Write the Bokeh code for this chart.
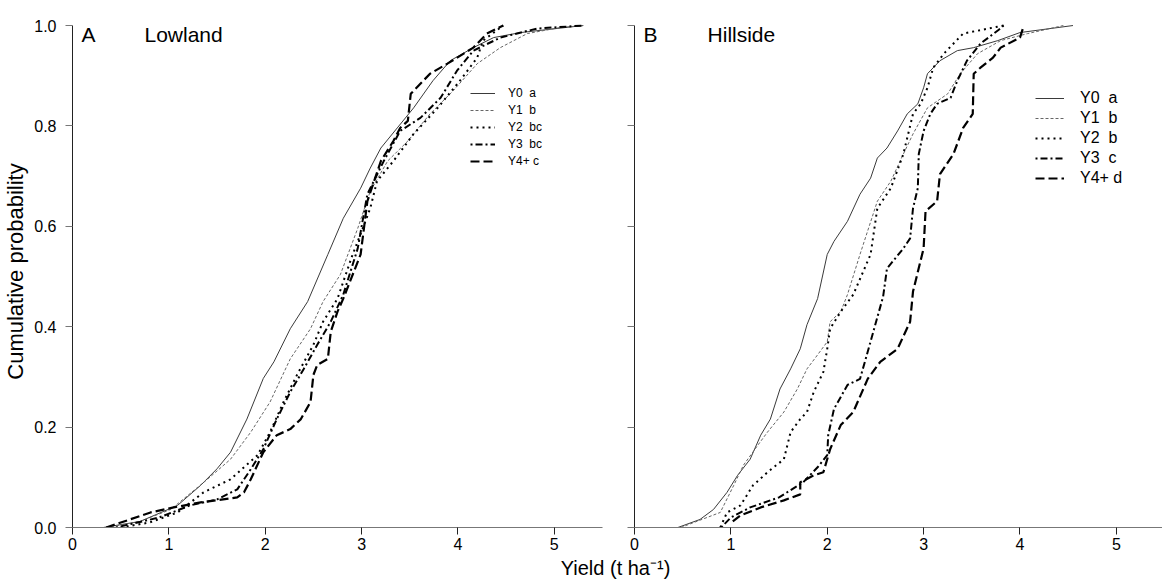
from bokeh.plotting import figure
from bokeh.models import (Range1d, FixedTicker, PrintfTickFormatter, CustomJSTickFormatter,
                          Label, Legend, LegendItem)
from bokeh.layouts import row, column
from bokeh.embed import file_html
from bokeh.resources import INLINE

# ---------------- data ----------------
# Panel A: Lowland  (yield t/ha, cumulative probability)
low_y0_x = [0.32, 0.70, 1.09, 1.33, 1.50, 1.64, 1.81, 1.98, 2.09, 2.26, 2.44, 2.65, 2.81, 2.99, 3.09, 3.20, 3.37, 3.54, 3.74, 3.92, 4.16, 4.37, 4.65, 5.30]
low_y0_p = [0.0, 0.012, 0.044, 0.084, 0.117, 0.15, 0.216, 0.297, 0.33, 0.396, 0.45, 0.544, 0.616, 0.676, 0.716, 0.756, 0.796, 0.836, 0.89, 0.93, 0.956, 0.976, 0.986, 1.0]

low_y1_x = [0.35, 0.70, 1.02, 1.40, 1.64, 1.85, 2.05, 2.26, 2.47, 2.60, 2.78, 2.96, 3.09, 3.27, 3.48, 3.71, 3.95, 4.20, 4.44, 4.72, 5.06, 5.30]
low_y1_p = [0.0, 0.012, 0.036, 0.096, 0.136, 0.19, 0.25, 0.336, 0.396, 0.45, 0.504, 0.596, 0.67, 0.73, 0.77, 0.824, 0.87, 0.924, 0.956, 0.984, 0.996, 1.0]

low_y2_x = [0.50, 0.80, 1.09, 1.36, 1.64, 1.92, 2.05, 2.19, 2.33, 2.50, 2.60, 2.75, 2.90, 3.02, 3.09, 3.16, 3.33, 3.54, 3.79, 4.02, 4.20, 4.26, 4.47]
low_y2_p = [0.0, 0.01, 0.03, 0.07, 0.096, 0.144, 0.19, 0.25, 0.304, 0.364, 0.41, 0.456, 0.54, 0.60, 0.636, 0.69, 0.73, 0.784, 0.836, 0.89, 0.936, 0.97, 1.0]

low_y3_x = [0.45, 0.90, 1.22, 1.50, 1.71, 1.85, 1.98, 2.12, 2.26, 2.40, 2.54, 2.68, 2.81, 2.96, 3.06, 3.23, 3.40, 3.61, 3.82, 3.99, 4.16, 4.44, 4.82, 5.30]
low_y3_p = [0.0, 0.02, 0.044, 0.056, 0.076, 0.116, 0.156, 0.216, 0.27, 0.316, 0.364, 0.41, 0.464, 0.556, 0.664, 0.73, 0.79, 0.816, 0.856, 0.91, 0.95, 0.976, 0.994, 1.0]

low_y4_x = [0.35, 0.81, 1.05, 1.33, 1.71, 1.78, 1.85, 1.98, 2.12, 2.26, 2.37, 2.47, 2.50, 2.54, 2.65, 2.68, 2.75, 2.81, 2.99, 3.06, 3.20, 3.33, 3.40, 3.48, 3.51, 3.61, 3.71, 3.89, 4.16, 4.30, 4.47]
low_y4_p = [0.0, 0.03, 0.04, 0.05, 0.06, 0.07, 0.096, 0.15, 0.184, 0.196, 0.216, 0.25, 0.304, 0.324, 0.336, 0.39, 0.43, 0.456, 0.544, 0.65, 0.73, 0.77, 0.796, 0.81, 0.864, 0.884, 0.904, 0.924, 0.956, 0.984, 1.0]

# Panel B: Hillside
hill_y0_x = [0.45, 0.68, 0.82, 0.96, 1.07, 1.20, 1.31, 1.41, 1.51, 1.62, 1.72, 1.79, 1.90, 2.00, 2.07, 2.21, 2.34, 2.45, 2.52, 2.62, 2.73, 2.83, 2.94, 3.00, 3.04, 3.17, 3.35, 3.52, 3.77, 4.00, 4.55]
hill_y0_p = [0.0, 0.016, 0.036, 0.07, 0.104, 0.136, 0.184, 0.216, 0.276, 0.316, 0.356, 0.404, 0.456, 0.544, 0.57, 0.61, 0.664, 0.696, 0.736, 0.756, 0.79, 0.824, 0.844, 0.876, 0.904, 0.93, 0.95, 0.956, 0.97, 0.986, 1.0]

hill_y1_x = [0.48, 0.89, 1.03, 1.13, 1.28, 1.38, 1.55, 1.69, 1.79, 1.90, 2.00, 2.03, 2.14, 2.21, 2.34, 2.52, 2.66, 2.79, 2.89, 3.04, 3.25, 3.38, 3.56, 3.80, 4.08, 4.45]
hill_y1_p = [0.0, 0.03, 0.084, 0.124, 0.164, 0.19, 0.23, 0.276, 0.316, 0.344, 0.37, 0.41, 0.43, 0.464, 0.544, 0.65, 0.69, 0.744, 0.784, 0.836, 0.864, 0.904, 0.944, 0.97, 0.984, 1.0]

hill_y2_x = [0.89, 0.96, 1.10, 1.23, 1.38, 1.55, 1.62, 1.72, 1.79, 1.86, 1.96, 2.00, 2.03, 2.14, 2.27, 2.45, 2.52, 2.66, 2.79, 2.89, 2.97, 3.04, 3.10, 3.21, 3.41, 3.83]
hill_y2_p = [0.0, 0.03, 0.044, 0.084, 0.11, 0.136, 0.19, 0.216, 0.23, 0.27, 0.31, 0.356, 0.396, 0.43, 0.464, 0.544, 0.636, 0.676, 0.744, 0.824, 0.844, 0.876, 0.916, 0.944, 0.984, 1.0]

hill_y3_x = [0.90, 1.00, 1.20, 1.50, 1.75, 1.90, 2.00, 2.01, 2.07, 2.21, 2.34, 2.42, 2.58, 2.62, 2.79, 2.86, 2.89, 2.94, 2.95, 3.00, 3.07, 3.14, 3.28, 3.35, 3.45, 3.59, 3.77, 3.83]
hill_y3_p = [0.0, 0.02, 0.04, 0.06, 0.09, 0.12, 0.144, 0.184, 0.236, 0.284, 0.296, 0.35, 0.46, 0.516, 0.556, 0.576, 0.636, 0.676, 0.744, 0.79, 0.824, 0.844, 0.856, 0.89, 0.93, 0.964, 0.99, 1.0]

hill_y4_x = [1.02, 1.10, 1.31, 1.55, 1.72, 1.72, 1.86, 1.96, 2.03, 2.14, 2.27, 2.42, 2.55, 2.73, 2.86, 2.89, 3.00, 3.02, 3.14, 3.17, 3.31, 3.41, 3.51, 3.52, 3.59, 3.72, 3.80, 4.00, 4.04]
hill_y4_p = [0.012, 0.024, 0.04, 0.054, 0.066, 0.09, 0.104, 0.11, 0.156, 0.204, 0.23, 0.296, 0.33, 0.356, 0.41, 0.47, 0.556, 0.63, 0.65, 0.704, 0.744, 0.796, 0.824, 0.904, 0.916, 0.936, 0.956, 0.976, 1.0]

low_labels = ["Y0  a", "Y1  b", "Y2  bc", "Y3  bc", "Y4+ c"]
hill_labels = ["Y0  a", "Y1  b", "Y2  b", "Y3  c", "Y4+ d"]
x_ticks = [0, 1, 2, 3, 4, 5]
y_ticks = [0.0, 0.2, 0.4, 0.6, 0.8, 1.0]

# ---------------- styles ----------------
FONT = "Liberation Sans"
styles = [
    dict(line_color="#3a3a3a", line_width=1.0, line_dash="solid"),
    dict(line_color="#666666", line_width=1.0, line_dash="3 2"),
    dict(line_color="black", line_width=2.0, line_dash="2 4"),
    dict(line_color="black", line_width=2.0, line_dash="2 3 7 3"),
    dict(line_color="black", line_width=2.2, line_dash="9 4"),
]

PANEL_H = 556


def make_panel(width, x_end, mb_left, mb_right, show_ylabels):
    p = figure(width=width, height=PANEL_H, x_range=Range1d(0, x_end), y_range=Range1d(0, 1.02),
               output_backend="svg", toolbar_location=None,
               min_border_left=mb_left, min_border_right=mb_right,
               min_border_top=15, min_border_bottom=29)
    p.outline_line_color = None
    p.xgrid.visible = False
    p.ygrid.visible = False
    p.background_fill_color = "white"
    p.border_fill_color = "white"
    for ax in (p.xaxis[0], p.yaxis[0]):
        ax.minor_tick_line_color = None
        ax.major_tick_out = 7
        ax.major_tick_in = 0
        ax.major_label_text_font = FONT
        ax.major_label_text_font_size = "16px"
        ax.major_label_text_color = "black"
        ax.axis_label_text_font = FONT
        ax.axis_label_text_font_style = "normal"
        ax.axis_label_text_color = "black"
    xa = p.xaxis[0]
    xa.ticker = FixedTicker(ticks=x_ticks)
    xa.formatter = PrintfTickFormatter(format="%d")
    xa.axis_line_color = "#777777"
    xa.major_tick_line_color = "#222222"
    xa.major_label_standoff = 3
    ya = p.yaxis[0]
    ya.ticker = FixedTicker(ticks=y_ticks)
    ya.bounds = (0, 1)
    ya.axis_line_color = "#222222"
    ya.major_tick_line_color = "#777777"
    if show_ylabels:
        ya.formatter = PrintfTickFormatter(format="%.1f")
        ya.major_label_standoff = 9
        ya.axis_label = "Cumulative probability"
        ya.axis_label_text_font_size = "22px"
        ya.axis_label_standoff = 3
    else:
        ya.formatter = CustomJSTickFormatter(code="return ''")
        ya.major_label_standoff = 0
    return p


def add_curves(p, xs, ps, labels, loc, font_size, glyph_w, glyph_h, standoff, spacing):
    items = []
    for x, y, lab, st in zip(xs, ps, labels, styles):
        r = p.line(x, y, **st)
        items.append(LegendItem(label=lab, renderers=[r]))
    leg = Legend(items=items, location=loc, padding=0, margin=0, spacing=spacing,
                 border_line_color=None, background_fill_alpha=0,
                 glyph_width=glyph_w, glyph_height=glyph_h, label_height=glyph_h,
                 label_standoff=standoff, label_text_font=FONT,
                 label_text_font_size=font_size, label_text_color="black")
    p.add_layout(leg)


def title_label(p, x, text):
    p.add_layout(Label(x=x, y=0.982, text=text, text_font=FONT, text_font_size="21px",
                       text_baseline="alphabetic", text_color="black"))


# Left panel
p1 = make_panel(620, 5.5, 72, 18, True)
add_curves(p1, [low_y0_x, low_y1_x, low_y2_x, low_y3_x, low_y4_x],
           [low_y0_p, low_y1_p, low_y2_p, low_y3_p, low_y4_p],
           low_labels, (398, 359), "12px", 25, 14, 13, 3)
title_label(p1, 0.093, "A")
title_label(p1, 0.747, "Lowland")

# Right panel
p2 = make_panel(542, 5.479, 14, 0, False)
add_curves(p2, [hill_y0_x, hill_y1_x, hill_y2_x, hill_y3_x, hill_y4_x],
           [hill_y0_p, hill_y1_p, hill_y2_p, hill_y3_p, hill_y4_p],
           hill_labels, (401, 340), "16px", 29, 18, 16, 2)
title_label(p2, 0.093, "B")
title_label(p2, 0.758, "Hillside")

# Shared x-axis title strip below both panels
STRIP_H = 579 - PANEL_H
p3 = figure(width=1162, height=STRIP_H, x_range=Range1d(0, 1162), y_range=Range1d(0, STRIP_H),
            output_backend="svg", toolbar_location=None, min_border=0)
p3.axis.visible = False
p3.grid.visible = False
p3.outline_line_color = None
p3.background_fill_color = "white"
p3.border_fill_color = "white"
p3.add_layout(Label(x=615, y=STRIP_H / 2, text="Yield (t ha\u207b\u00b9)", text_font=FONT,
                    text_font_size="20px", text_align="center", text_baseline="middle",
                    text_color="black"))

layout = column(row(p1, p2), p3)
open("out.html", "w").write(file_html(layout, INLINE))
